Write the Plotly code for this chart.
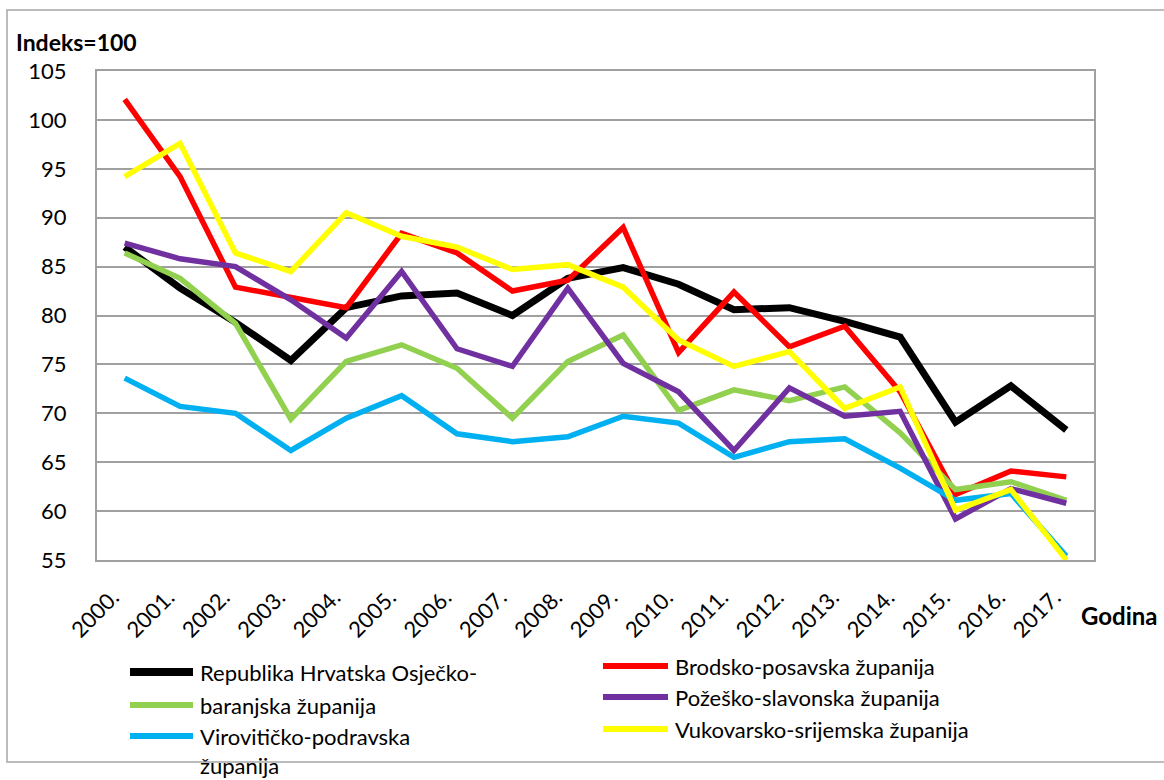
import plotly.graph_objects as go

years = ["2000.", "2001.", "2002.", "2003.", "2004.", "2005.", "2006.", "2007.", "2008.",
         "2009.", "2010.", "2011.", "2012.", "2013.", "2014.", "2015.", "2016.", "2017."]

republika_hrvatska = [87.0, 82.8, 79.3, 75.4, 80.8, 82.0, 82.3, 80.0, 83.8,
                      84.9, 83.2, 80.6, 80.8, 79.4, 77.8, 69.1, 72.8, 68.3]
brodsko_posavska = [102.1, 94.2, 82.9, 81.9, 80.8, 88.4, 86.4, 82.5, 83.6,
                    89.0, 76.2, 82.4, 76.8, 78.9, 72.2, 61.7, 64.1, 63.5]
osjecko_baranjska = [86.4, 83.8, 79.2, 69.4, 75.3, 77.0, 74.6, 69.5, 75.3,
                     78.0, 70.3, 72.4, 71.3, 72.7, 68.0, 62.2, 63.0, 61.1]
pozesko_slavonska = [87.4, 85.8, 85.0, 81.6, 77.7, 84.5, 76.6, 74.8, 82.8,
                     75.1, 72.2, 66.2, 72.6, 69.7, 70.2, 59.2, 62.3, 60.8]
viroviticko_podravska = [73.6, 70.7, 70.0, 66.2, 69.5, 71.8, 67.9, 67.1, 67.6,
                         69.7, 69.0, 65.5, 67.1, 67.4, 64.4, 61.1, 61.8, 55.4]
vukovarsko_srijemska = [94.2, 97.6, 86.4, 84.5, 90.5, 88.1, 87.0, 84.7, 85.2,
                        82.9, 77.5, 74.8, 76.3, 70.5, 72.7, 60.1, 62.2, 55.0]

y_ticks = [55, 60, 65, 70, 75, 80, 85, 90, 95, 100, 105]

legend_labels = ["Republika Hrvatska Osječko-", "Brodsko-posavska županija",
                 "baranjska županija", "Požeško-slavonska županija",
                 "Virovitičko-podravska<br>županija", "Vukovarsko-srijemska županija"]

series = [
    (republika_hrvatska, "#000000", 7),
    (brodsko_posavska, "#FF0000", 5.5),
    (osjecko_baranjska, "#92D050", 5.5),
    (pozesko_slavonska, "#7030A0", 5.5),
    (viroviticko_podravska, "#00B0F0", 5.5),
    (vukovarsko_srijemska, "#FFFF00", 5.5),
]

FONT = "Lato, 'Open Sans', sans-serif"
W, H = 1164, 780
L, R, T, B = 97, 1094, 71, 560
GRID = "#A0A0A0"


def px_x(px):
    return (px - L) / (R - L)


def px_y(py):
    return (B - py) / (B - T)


fig = go.Figure()
for (vals, color, width), name in zip(series, legend_labels):
    fig.add_trace(go.Scatter(
        x=years, y=vals, mode="lines", name=name.replace("<br>", " "),
        line=dict(color=color, width=width), showlegend=False,
    ))

shapes = []
annotations = []

# outer frame
shapes.append(dict(type="rect", xref="paper", yref="paper",
                   x0=px_x(7), x1=px_x(1172), y0=px_y(762), y1=px_y(10),
                   line=dict(color="#A6A6A6", width=1.5), layer="below"))

# custom legend (two columns, row-major like the original)
legend_pos = [
    (130, 193, 198, 672, "#000000", 8),
    (603, 668, 673, 666, "#FF0000", 6),
    (130, 193, 198, 705, "#92D050", 6),
    (603, 668, 673, 697, "#7030A0", 6),
    (130, 193, 198, 736, "#00B0F0", 6),
    (603, 668, 673, 729, "#FFFF00", 6),
]
for (x0, x1, tx, ly, color, lw), label in zip(legend_pos, legend_labels):
    shapes.append(dict(type="line", xref="paper", yref="paper",
                       x0=px_x(x0), x1=px_x(x1), y0=px_y(ly), y1=px_y(ly),
                       line=dict(color=color, width=lw)))
    annotations.append(dict(xref="paper", yref="paper", x=px_x(tx), y=px_y(ly - 15),
                            xanchor="left", yanchor="top", showarrow=False,
                            text=label, align="left",
                            font=dict(family=FONT, size=22, color="#000000")))

annotations.append(dict(xref="paper", yref="paper", x=px_x(14), y=px_y(42),
                        xanchor="left", yanchor="middle", showarrow=False,
                        text="<b>Indeks=100</b>",
                        font=dict(family=FONT, size=23, color="#000000")))
annotations.append(dict(xref="paper", yref="paper", x=px_x(1079), y=px_y(615),
                        xanchor="left", yanchor="middle", showarrow=False,
                        text="<b>Godina</b>",
                        font=dict(family=FONT, size=24, color="#000000")))

fig.update_layout(
    width=W, height=H,
    margin=dict(l=L, r=W - R, t=T, b=H - B, pad=0),
    paper_bgcolor="white", plot_bgcolor="white",
    font=dict(family=FONT, size=20, color="#000000"),
    shapes=shapes, annotations=annotations,
    showlegend=False,
)
fig.update_xaxes(
    type="category", categoryorder="array", categoryarray=years,
    range=[-0.5, len(years) - 0.5], tickangle=-45,
    showgrid=False, showline=True, mirror=True, linecolor=GRID, linewidth=2,
    ticks="", ticklabelstandoff=14, ticklabelshift=-12,
    tickfont=dict(family=FONT, size=22),
    zeroline=False,
)
fig.update_yaxes(
    range=[55, 105], tickvals=y_ticks,
    showgrid=True, gridcolor=GRID, gridwidth=2,
    showline=True, mirror=True, linecolor=GRID, linewidth=2,
    ticks="", ticklabelstandoff=24, tickfont=dict(family=FONT, size=22),
    zeroline=False,
)

fig.write_html(
    "out.html",
    config={"displayModeBar": False},
    post_script="document.body.style.margin='0';document.body.style.overflow='hidden';",
)
